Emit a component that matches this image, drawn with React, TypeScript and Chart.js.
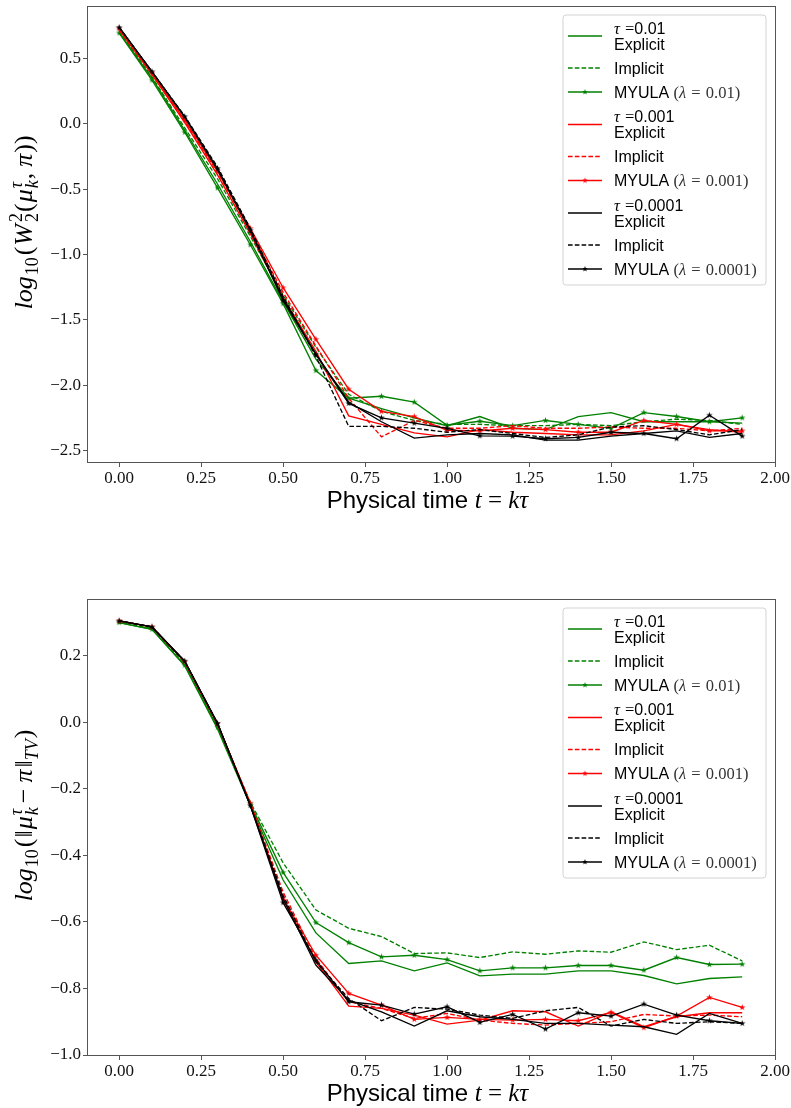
import React, { useEffect, useRef } from "react";
import { Chart, registerables } from "chart.js";

Chart.register(...registerables);

// ---------------- data ----------------
const T = [0, 0.1, 0.2, 0.3, 0.4, 0.5, 0.6, 0.7, 0.8, 0.9, 1.0, 1.1, 1.2, 1.3, 1.4, 1.5, 1.6, 1.7, 1.8, 1.9];
const X_TICKS = [0, 0.25, 0.5, 0.75, 1.0, 1.25, 1.5, 1.75, 2.0];
const W2_TICKS = [-2.5, -2.0, -1.5, -1.0, -0.5, 0.0, 0.5];
const TV_TICKS = [-1.0, -0.8, -0.6, -0.4, -0.2, 0.0, 0.2];
const TAUS = ["0.01", "0.001", "0.0001"];

// top panel: log10(W2^2)
const W2_EXP_001 = [0.70, 0.35, -0.05, -0.46, -0.90, -1.36, -1.80, -2.10, -2.18, -2.25, -2.31, -2.24, -2.33, -2.34, -2.24, -2.21, -2.28, -2.28, -2.28, -2.29];
const W2_IMP_001 = [0.71, 0.36, -0.03, -0.42, -0.86, -1.31, -1.71, -2.07, -2.20, -2.27, -2.30, -2.30, -2.31, -2.31, -2.30, -2.31, -2.28, -2.26, -2.27, -2.30];
const W2_MY_001 = [0.696, 0.336, -0.064, -0.49, -0.925, -1.376, -1.888, -2.10, -2.085, -2.13, -2.307, -2.276, -2.31, -2.27, -2.30, -2.33, -2.21, -2.24, -2.28, -2.25];
const W2_EXP_0001 = [0.72, 0.38, 0.01, -0.39, -0.84, -1.33, -1.74, -2.235, -2.30, -2.365, -2.396, -2.34, -2.36, -2.37, -2.38, -2.38, -2.35, -2.30, -2.34, -2.36];
const W2_IMP_0001 = [0.72, 0.38, 0.02, -0.37, -0.82, -1.29, -1.70, -2.10, -2.396, -2.27, -2.33, -2.33, -2.31, -2.33, -2.33, -2.32, -2.33, -2.33, -2.35, -2.33];
const W2_MY_0001 = [0.73, 0.39, 0.03, -0.36, -0.80, -1.254, -1.649, -2.031, -2.20, -2.24, -2.345, -2.35, -2.33, -2.34, -2.36, -2.36, -2.27, -2.30, -2.35, -2.35];
const W2_EXP_00001 = [0.74, 0.40, 0.05, -0.35, -0.82, -1.34, -1.76, -2.13, -2.28, -2.405, -2.38, -2.37, -2.38, -2.42, -2.42, -2.39, -2.37, -2.35, -2.40, -2.37];
const W2_IMP_00001 = [0.74, 0.40, 0.06, -0.33, -0.80, -1.32, -1.78, -2.315, -2.315, -2.33, -2.36, -2.34, -2.37, -2.40, -2.38, -2.32, -2.31, -2.34, -2.38, -2.34];
const W2_MY_00001 = [0.739, 0.40, 0.056, -0.342, -0.816, -1.351, -1.766, -2.14, -2.25, -2.29, -2.33, -2.388, -2.39, -2.41, -2.40, -2.36, -2.37, -2.41, -2.23, -2.39];

// bottom panel: log10(TV)
const TV_EXP_001 = [0.30, 0.28, 0.17, -0.02, -0.25, -0.474, -0.633, -0.725, -0.717, -0.747, -0.723, -0.762, -0.757, -0.757, -0.747, -0.747, -0.761, -0.786, -0.770, -0.765];
const TV_IMP_001 = [0.30, 0.283, 0.178, -0.01, -0.24, -0.422, -0.564, -0.619, -0.644, -0.695, -0.693, -0.707, -0.690, -0.697, -0.687, -0.691, -0.660, -0.683, -0.670, -0.717];
const TV_MY_001 = [0.30, 0.28, 0.172, -0.015, -0.245, -0.451, -0.602, -0.662, -0.705, -0.700, -0.713, -0.747, -0.738, -0.738, -0.731, -0.731, -0.745, -0.707, -0.728, -0.727];
const TV_EXP_0001 = [0.305, 0.287, 0.182, -0.005, -0.245, -0.53, -0.72, -0.853, -0.86, -0.88, -0.907, -0.895, -0.867, -0.870, -0.913, -0.870, -0.915, -0.885, -0.873, -0.873];
const TV_IMP_0001 = [0.305, 0.287, 0.182, -0.005, -0.243, -0.51, -0.71, -0.84, -0.86, -0.89, -0.875, -0.895, -0.905, -0.91, -0.905, -0.90, -0.878, -0.883, -0.88, -0.885];
const TV_MY_0001 = [0.305, 0.287, 0.183, -0.004, -0.243, -0.528, -0.70, -0.815, -0.85, -0.893, -0.887, -0.893, -0.895, -0.893, -0.897, -0.872, -0.918, -0.883, -0.827, -0.857];
const TV_EXP_00001 = [0.305, 0.287, 0.184, -0.003, -0.25, -0.53, -0.73, -0.835, -0.870, -0.913, -0.867, -0.885, -0.893, -0.905, -0.905, -0.91, -0.915, -0.938, -0.875, -0.905];
const TV_IMP_00001 = [0.305, 0.287, 0.184, -0.003, -0.25, -0.52, -0.72, -0.830, -0.897, -0.857, -0.862, -0.880, -0.890, -0.867, -0.857, -0.913, -0.893, -0.905, -0.900, -0.905];
const TV_MY_00001 = [0.305, 0.287, 0.184, -0.003, -0.25, -0.542, -0.715, -0.84, -0.85, -0.877, -0.855, -0.902, -0.878, -0.922, -0.873, -0.883, -0.847, -0.880, -0.897, -0.905];

const W2_GROUPS = [
  [W2_EXP_001, W2_IMP_001, W2_MY_001],
  [W2_EXP_0001, W2_IMP_0001, W2_MY_0001],
  [W2_EXP_00001, W2_IMP_00001, W2_MY_00001],
];
const TV_GROUPS = [
  [TV_EXP_001, TV_IMP_001, TV_MY_001],
  [TV_EXP_0001, TV_IMP_0001, TV_MY_0001],
  [TV_EXP_00001, TV_IMP_00001, TV_MY_00001],
];

// ---------------- styles ----------------
const COLORS = ["#008000", "#ff0000", "#000000"];
const LW = 1.35;
const DASH = [4.6, 2.2];
const SERIF = '"Liberation Serif", "DejaVu Serif", serif';
const SANS = '"Liberation Sans", Arial, sans-serif';
const FRAME = "#555555";
const W = 791;
const PANEL_H = 554;

type Seg = { t: string; it?: boolean; sans?: boolean; sz: number; dy?: number; stack?: boolean; gap?: number; color?: string };

function fontOf(s: Seg) {
  return `${s.it ? "italic " : ""}${s.sz}px ${s.sans ? SANS : SERIF}`;
}
function layoutRich(ctx: CanvasRenderingContext2D, segs: Seg[]) {
  let x = 0;
  let pend = 0;
  const pos: number[] = [];
  for (const s of segs) {
    ctx.font = fontOf(s);
    const w = ctx.measureText(s.t).width;
    pos.push(x);
    if (s.stack) {
      pend = Math.max(pend, w);
    } else {
      x += Math.max(w, pend) + (s.gap || 0);
      pend = 0;
    }
  }
  return { pos, width: x };
}
function drawRich(ctx: CanvasRenderingContext2D, segs: Seg[], x0: number, y0: number, color: string, align: "left" | "center" = "left") {
  const { pos, width } = layoutRich(ctx, segs);
  const sx = align === "center" ? x0 - width / 2 : x0;
  ctx.textAlign = "left";
  ctx.textBaseline = "alphabetic";
  segs.forEach((s, i) => {
    ctx.font = fontOf(s);
    ctx.fillStyle = s.color || color;
    ctx.fillText(s.t, sx + pos[i], y0 + (s.dy || 0));
  });
  return width;
}

function starCanvas(color: string, r = 3.4) {
  const size = Math.ceil(r * 2 + 2);
  const c = document.createElement("canvas");
  c.width = size;
  c.height = size;
  const ctx = c.getContext("2d")!;
  ctx.fillStyle = color;
  ctx.beginPath();
  for (let i = 0; i < 10; i++) {
    const rad = i % 2 === 0 ? r : r * 0.382;
    const a = -Math.PI / 2 + (i * Math.PI) / 5;
    const px = size / 2 + rad * Math.cos(a);
    const py = size / 2 + rad * Math.sin(a);
    if (i === 0) ctx.moveTo(px, py);
    else ctx.lineTo(px, py);
  }
  ctx.closePath();
  ctx.fill();
  return c;
}

const M = 26; // main math size
const S = 18; // script size
const YLABEL_W2: Seg[] = [
  { t: "log", it: true, sz: M, gap: 1 },
  { t: "10", sz: S, dy: 6, gap: 2 },
  { t: "(", sz: M, gap: 1 },
  { t: "W", it: true, sz: M, gap: 2 },
  { t: "2", sz: S, dy: -10, stack: true },
  { t: "2", sz: S, dy: 6, gap: 1 },
  { t: "(", sz: M, gap: 1 },
  { t: "μ", it: true, sz: M, gap: 1 },
  { t: "τ", it: true, sz: S, dy: -10, stack: true },
  { t: "k", it: true, sz: S, dy: 6, gap: 1 },
  { t: ",", sz: M, gap: 6 },
  { t: "π", it: true, sz: M, gap: 1 },
  { t: "))", sz: M },
];
const YLABEL_TV: Seg[] = [
  { t: "log", it: true, sz: M, gap: 1 },
  { t: "10", sz: S, dy: 6, gap: 2 },
  { t: "(", sz: M, gap: 1 },
  { t: "‖", sz: M, gap: 1 },
  { t: "μ", it: true, sz: M, gap: 1 },
  { t: "τ", it: true, sz: S, dy: -10, stack: true },
  { t: "k", it: true, sz: S, dy: 6, gap: 4 },
  { t: "−", sz: M, gap: 6 },
  { t: "π", it: true, sz: M, gap: 2 },
  { t: "‖", sz: M },
  { t: "TV", it: true, sz: S, dy: 6, gap: 1 },
  { t: ")", sz: M },
];
const XLABEL: Seg[] = [
  { t: "Physical time ", sans: true, sz: 24 },
  { t: "t", it: true, sz: 25 },
  { t: " = ", sz: 25 },
  { t: "kτ", it: true, sz: 25 },
];

function drawLegend(ctx: CanvasRenderingContext2D, top: number) {
  const bx = 563, by = top + 8, bw = 203, bh = 270, r = 3;
  ctx.save();
  ctx.beginPath();
  ctx.moveTo(bx + r, by);
  ctx.arcTo(bx + bw, by, bx + bw, by + bh, r);
  ctx.arcTo(bx + bw, by + bh, bx, by + bh, r);
  ctx.arcTo(bx, by + bh, bx, by, r);
  ctx.arcTo(bx, by, bx + bw, by, r);
  ctx.closePath();
  ctx.fillStyle = "rgba(255,255,255,0.85)";
  ctx.fill();
  ctx.strokeStyle = "#d3d3d3";
  ctx.lineWidth = 1;
  ctx.stroke();

  const hx0 = 568, hx1 = 602, tx = 614;
  const line = (y: number, col: string, dash: number[] | null, star: boolean) => {
    ctx.save();
    ctx.strokeStyle = col;
    ctx.lineWidth = LW;
    ctx.setLineDash(dash || []);
    ctx.beginPath();
    ctx.moveTo(hx0, y);
    ctx.lineTo(hx1, y);
    ctx.stroke();
    ctx.restore();
    if (star) {
      const s = starCanvas(col, 3.0);
      ctx.drawImage(s, (hx0 + hx1) / 2 - s.width / 2, y - s.height / 2);
    }
  };
  for (let g = 0; g < 3; g++) {
    const base = by + g * 88.5;
    const col = COLORS[g];
    line(base + 21, col, null, false);
    drawRich(ctx, [
      { t: "τ", it: true, sz: 16.5, gap: 1 },
      { t: " =", sz: 16.5 },
      { t: TAUS[g], sans: true, sz: 16 },
    ], tx, base + 13 + 5.5, "#000");
    drawRich(ctx, [{ t: "Explicit", sans: true, sz: 16 }], tx, base + 29 + 5.5, "#000");
    line(base + 53, col, DASH, false);
    drawRich(ctx, [{ t: "Implicit", sans: true, sz: 16 }], tx, base + 53 + 5.5, "#000");
    line(base + 77, col, null, true);
    drawRich(ctx, [
      { t: "MYULA ", sans: true, sz: 16 },
      { t: "(", sz: 16.5, color: "#333" },
      { t: "λ", it: true, sz: 16.5, color: "#333", gap: 1 },
      { t: " = ", sz: 16.5, color: "#333", gap: 1 },
      { t: TAUS[g], sz: 16.5, color: "#333" },
      { t: ")", sz: 16.5, color: "#333" },
    ], tx, base + 77 + 5.5, "#000");
  }
  ctx.restore();
}

type PanelCfg = {
  groups: number[][][];
  yMin: number;
  yMax: number;
  yTicks: number[];
  padTop: number;
  xHeight: number;
  yLabel: Seg[];
};

function buildChart(canvas: HTMLCanvasElement, cfg: PanelCfg) {
  const datasets: any[] = [];
  for (let g = cfg.groups.length - 1; g >= 0; g--) {
    const [exp, imp, my] = cfg.groups[g];
    const col = COLORS[g];
    const star = starCanvas(col);
    datasets.push({
      data: my.map((y, i) => ({ x: T[i], y })),
      borderColor: col,
      backgroundColor: col,
      borderWidth: LW,
      pointStyle: star,
      pointRadius: 3,
      pointHoverRadius: 3,
    });
    datasets.push({
      data: imp.map((y, i) => ({ x: T[i], y })),
      borderColor: col,
      borderWidth: LW,
      borderDash: DASH,
      pointRadius: 0,
    });
    datasets.push({
      data: exp.map((y, i) => ({ x: T[i], y })),
      borderColor: col,
      borderWidth: LW,
      pointRadius: 0,
    });
  }

  const fmtY = (v: any) => {
    const s = Number(v).toFixed(1);
    return s.startsWith("-") ? "\u2212" + s.slice(1) : s;
  };

  const deco = {
    id: "deco",
    afterDraw(chart: any) {
      const ctx: CanvasRenderingContext2D = chart.ctx;
      const a = chart.chartArea;
      ctx.save();
      ctx.strokeStyle = FRAME;
      ctx.lineWidth = 1;
      ctx.strokeRect(a.left - 0.5, a.top - 0.5, a.right - a.left + 1, a.bottom - a.top + 1);
      drawLegend(ctx, a.top);
      // y label (rotated)
      const cy = (a.top + a.bottom) / 2 - 12;
      ctx.translate(32, cy);
      ctx.rotate(-Math.PI / 2);
      drawRich(ctx, cfg.yLabel, 0, 0, "#000", "center");
      ctx.restore();
      ctx.save();
      drawRich(ctx, XLABEL, (a.left + a.right) / 2 - 4, a.bottom + 46, "#000", "center");
      ctx.restore();
    },
  };

  return new Chart(canvas, {
    type: "line",
    data: { datasets },
    plugins: [deco],
    options: {
      animation: false,
      responsive: false,
      events: [],
      layout: { padding: { top: cfg.padTop, right: W - 775, left: 0, bottom: 0 } },
      plugins: { legend: { display: false }, tooltip: { enabled: false } },
      elements: { line: { tension: 0 } },
      scales: {
        x: {
          type: "linear",
          min: -0.095,
          max: 2.0,
          afterBuildTicks: (s: any) => {
            s.ticks = X_TICKS.map((v) => ({ value: v }));
          },
          afterFit: (s: any) => {
            s.height = cfg.xHeight;
            s.paddingLeft = 0;
            s.paddingRight = 0;
          },
          ticks: {
            callback: (v: any) => Number(v).toFixed(2),
            font: { family: SERIF, size: 17 },
            color: "#111",
            padding: 1,
            maxRotation: 0,
            autoSkip: false,
          },
          grid: { drawOnChartArea: false, drawTicks: true, tickLength: 5, color: FRAME, tickWidth: 1 },
          border: { display: false },
        },
        y: {
          type: "linear",
          min: cfg.yMin,
          max: cfg.yMax,
          afterBuildTicks: (s: any) => {
            s.ticks = cfg.yTicks.map((v) => ({ value: v }));
          },
          afterFit: (s: any) => {
            s.width = 88;
            s.paddingTop = 0;
            s.paddingBottom = 0;
          },
          ticks: {
            callback: fmtY,
            font: { family: SERIF, size: 17 },
            color: "#111",
            padding: 2,
            autoSkip: false,
          },
          grid: { drawOnChartArea: false, drawTicks: true, tickLength: 5, color: FRAME, tickWidth: 1 },
          border: { display: false },
        },
      },
    } as any,
  });
}

export default function App() {
  const topRef = useRef<HTMLCanvasElement>(null);
  const botRef = useRef<HTMLCanvasElement>(null);

  useEffect(() => {
    const c1 = buildChart(topRef.current!, {
      groups: W2_GROUPS,
      yMin: -2.588,
      yMax: 0.895,
      yTicks: W2_TICKS,
      padTop: 7,
      xHeight: PANEL_H - 462,
      yLabel: YLABEL_W2,
    });
    const c2 = buildChart(botRef.current!, {
      groups: TV_GROUPS,
      yMin: -1.0,
      yMax: 0.368,
      yTicks: TV_TICKS,
      padTop: 46,
      xHeight: PANEL_H - 501,
      yLabel: YLABEL_TV,
    });
    return () => {
      c1.destroy();
      c2.destroy();
    };
  }, []);

  return (
    <div style={{ position: "absolute", left: 0, top: 0, width: W, height: 1108, overflow: "hidden", background: "#fff" }}>
      <canvas ref={topRef} width={W} height={PANEL_H} style={{ position: "absolute", left: 0, top: 0, width: W, height: PANEL_H }} />
      <canvas ref={botRef} width={W} height={PANEL_H} style={{ position: "absolute", left: 0, top: PANEL_H, width: W, height: PANEL_H }} />
    </div>
  );
}
